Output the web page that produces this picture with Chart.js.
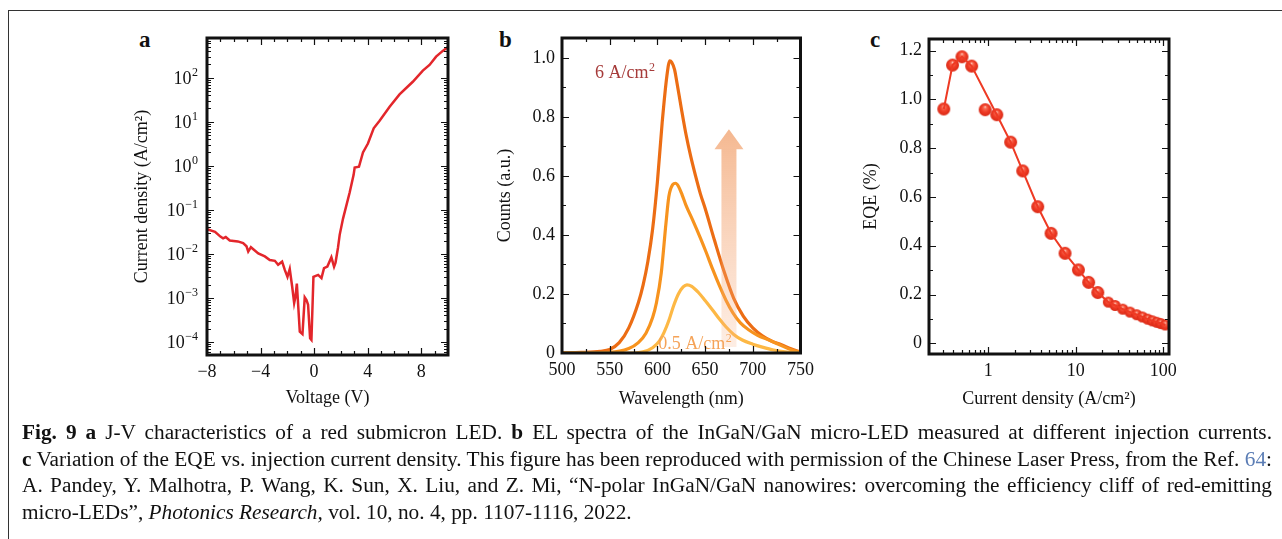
<!DOCTYPE html>
<html lang="en">
<head>
<meta charset="UTF-8" />
<title>Fig. 9</title>
<script src="https://cdn.jsdelivr.net/npm/chart.js"></script>
<style>
  body { margin: 0; background: #fff; width: 1282px; height: 539px; overflow: hidden; position: relative; font-family: "Liberation Serif", serif; color: #111; }
  .frame { position: absolute; left: 8px; top: 10px; width: 1400px; height: 700px; border-top: 1.5px solid #333; border-left: 1.5px solid #333; }
  canvas { position: absolute; }
  .tag { position: absolute; font-weight: bold; font-size: 23px; line-height: 22px; }
  #caption { position: absolute; left: 22px; top: 419px; width: 1250px; font-size: 21.3px; line-height: 26.7px; }
  #caption .ln { display: block; text-align: justify; text-align-last: justify; }
  #caption .last { display: block; text-align: left; }
  .ref { color: #5b7db5; }
</style>
</head>
<body>
<div class="frame"></div>
<div class="tag" style="left:139px; top:29px;">a</div>
<div class="tag" style="left:499px; top:29px;">b</div>
<div class="tag" style="left:870px; top:29px;">c</div>

<canvas id="jv" width="350" height="400" style="left:110px; top:20px;"></canvas>
<canvas id="el" width="340" height="400" style="left:480px; top:20px;"></canvas>
<canvas id="eqe" width="340" height="400" style="left:850px; top:20px;"></canvas>

<div id="caption">
  <span class="ln"><b>Fig. 9 a</b> J-V characteristics of a red submicron LED. <b>b</b> EL spectra of the InGaN/GaN micro-LED measured at different injection currents.</span>
  <span class="ln"><b>c</b> Variation of the EQE vs. injection current density. This figure has been reproduced with permission of the Chinese Laser Press, from the Ref. <span class="ref">64</span>:</span>
  <span class="ln">A. Pandey, Y. Malhotra, P. Wang, K. Sun, X. Liu, and Z. Mi, “N-polar InGaN/GaN nanowires: overcoming the efficiency cliff of red-emitting</span>
  <span class="last">micro-LEDs”, <i>Photonics Research,</i> vol. 10, no. 4, pp. 1107-1116, 2022.</span>
</div>

<script>
// ---- panel a: J-V ----
const jvVoltage = [-8.0, -7.4, -7.0, -6.8, -6.6, -6.3, -5.7, -5.3, -5.05, -4.92, -4.72, -4.17, -3.68, -3.31, -2.93, -2.69, -2.39, -2.19, -1.99, -1.82, -1.64, -1.49, -1.39, -1.29, -1.2, -1.07, -0.87, -0.7, -0.57, -0.45, -0.3, -0.2, -0.05, 0.3, 0.55, 0.74, 0.99, 1.29, 1.49, 1.6, 1.78, 1.91, 2.16, 2.66, 2.95, 3.03, 3.35, 3.65, 4.02, 4.45, 4.89, 5.64, 6.38, 7.37, 8.12, 8.62, 9.11, 9.61, 10.0];
const jvDensity = [0.0363, 0.0316, 0.0245, 0.0224, 0.024, 0.02, 0.0191, 0.0174, 0.0148, 0.0112, 0.0141, 0.0102, 0.0087, 0.0072, 0.0069, 0.0056, 0.0066, 0.0043, 0.003, 0.0045, 0.0018, 0.00076, 0.00107, 0.0021, 0.00076, 0.00017, 0.00015, 0.00102, 0.00089, 0.00069, 0.00012, 0.00011, 0.003, 0.0033, 0.0028, 0.0047, 0.0051, 0.0083, 0.0051, 0.0063, 0.0135, 0.0269, 0.063, 0.25, 0.62, 0.91, 0.95, 2.0, 3.2, 7.1, 10.5, 21.9, 41.7, 81, 145, 195, 302, 407, 501];
const jvTicksV = [-8, -4, 0, 4, 8];
const jvMinorV = [-7, -6, -5, -3, -2, -1, 1, 2, 3, 5, 6, 7, 9];
const jvTicksJ = [1e-4, 1e-3, 1e-2, 1e-1, 1, 10, 100];

// ---- panel b: EL spectra ----
const elHighNm = [500, 520, 540, 550, 560, 570, 580, 585, 590, 595, 600, 605, 610, 613, 615, 618, 620, 625, 630, 635, 640, 645, 650, 660, 670, 680, 690, 700, 710, 720, 730, 740, 750];
const elHigh = [0, 0.002, 0.006, 0.012, 0.035, 0.085, 0.17, 0.23, 0.31, 0.42, 0.58, 0.78, 0.94, 0.99, 0.985, 0.96, 0.925, 0.83, 0.74, 0.665, 0.6, 0.54, 0.49, 0.38, 0.275, 0.185, 0.125, 0.085, 0.058, 0.04, 0.028, 0.014, 0.003];
const elMidNm = [500, 550, 570, 580, 588, 595, 599, 604, 609, 612, 616, 619, 622, 626, 630, 637, 645, 651, 658, 665, 672, 679, 687, 696, 705, 717, 730, 741, 750];
const elMid = [0, 0.002, 0.015, 0.035, 0.067, 0.12, 0.17, 0.27, 0.44, 0.53, 0.57, 0.575, 0.565, 0.535, 0.5, 0.45, 0.39, 0.342, 0.283, 0.228, 0.178, 0.137, 0.102, 0.078, 0.06, 0.044, 0.025, 0.01, 0.003];
const elLowNm = [500, 575, 585, 595, 602, 607, 612, 617, 622, 627, 631, 636, 643, 650, 658, 665, 672, 680, 689, 700, 710, 722, 734, 750];
const elLow = [0, 0, 0.004, 0.018, 0.04, 0.07, 0.11, 0.16, 0.2, 0.224, 0.231, 0.226, 0.205, 0.178, 0.145, 0.115, 0.088, 0.063, 0.044, 0.03, 0.02, 0.01, 0.004, 0];
const elTicksNm = [500, 550, 600, 650, 700, 750];
const elMinorNm = [525, 575, 625, 675, 725];
const elTicksCounts = [0, 0.2, 0.4, 0.6, 0.8, 1.0];
const elMinorCounts = [0.1, 0.3, 0.5, 0.7, 0.9];

// ---- panel c: EQE ----
const eqeJ = [0.31, 0.39, 0.50, 0.645, 0.92, 1.25, 1.80, 2.47, 3.67, 5.21, 7.53, 10.7, 14.0, 17.8, 23.5, 28.1, 34.4, 41.6, 49.6, 57.5, 66.3, 74.9, 84.1, 93.4, 105];
const eqeVal = [0.961, 1.141, 1.175, 1.137, 0.958, 0.9375, 0.825, 0.707, 0.560, 0.451, 0.369, 0.301, 0.250, 0.208, 0.169, 0.155, 0.140, 0.128, 0.117, 0.108, 0.099, 0.092, 0.086, 0.081, 0.075];
// the drawn line skips the low point at 0.92 A/cm2
const eqeLineJ = [0.31, 0.39, 0.50, 0.645, 1.25, 1.80, 2.47, 3.67, 5.21, 7.53, 10.7, 14.0, 17.8, 23.5, 28.1, 34.4, 41.6, 49.6, 57.5, 66.3, 74.9, 84.1, 93.4, 105];
const eqeLineVal = [0.961, 1.141, 1.175, 1.137, 0.9375, 0.825, 0.707, 0.560, 0.451, 0.369, 0.301, 0.250, 0.208, 0.169, 0.155, 0.140, 0.128, 0.117, 0.108, 0.099, 0.092, 0.086, 0.081, 0.075];
const eqeTicksJ = [1, 10, 100];
const eqeTicksVal = [0, 0.2, 0.4, 0.6, 0.8, 1.0, 1.2];
const eqeMinorVal = [0.1, 0.3, 0.5, 0.7, 0.9, 1.1];

const FONT = '"Liberation Serif", "Times New Roman", serif';
Chart.defaults.font.family = FONT;
Chart.defaults.font.size = 18;
Chart.defaults.color = '#111';

function logMinor(lo, hi) {
  const out = [];
  for (let n = -6; n <= 3; n++) {
    for (let k = 2; k <= 9; k++) {
      const v = k * Math.pow(10, n);
      if (v > lo && v < hi) out.push(v);
    }
  }
  return out;
}

function pts(xs, ys) { return xs.map((x, i) => ({ x: x, y: ys[i] })); }

// frame + inward ticks on all four sides
const frameTicks = {
  id: 'frameTicks',
  afterDraw(chart, args, opts) {
    const { ctx, chartArea: a, scales } = chart;
    const xs = scales.x, ys = scales.y;
    ctx.save();
    ctx.strokeStyle = '#111';
    ctx.lineWidth = 1.2;
    const tx = (vals, len) => vals.forEach(v => {
      const p = Math.round(xs.getPixelForValue(v)) + 0.5;
      if (p < a.left + 2 || p > a.right - 2) return;
      ctx.beginPath();
      ctx.moveTo(p, a.bottom); ctx.lineTo(p, a.bottom - len);
      ctx.moveTo(p, a.top); ctx.lineTo(p, a.top + len);
      ctx.stroke();
    });
    const ty = (vals, len) => vals.forEach(v => {
      const p = Math.round(ys.getPixelForValue(v)) + 0.5;
      if (p < a.top + 2 || p > a.bottom - 2) return;
      ctx.beginPath();
      ctx.moveTo(a.left, p); ctx.lineTo(a.left + len, p);
      ctx.moveTo(a.right, p); ctx.lineTo(a.right - len, p);
      ctx.stroke();
    });
    tx(xs.ticks.map(t => t.value), 7);
    tx(opts.xMinor || [], 4);
    ty(ys.ticks.map(t => t.value), 7);
    ty(opts.yMinor || [], 4);
    ctx.lineWidth = 3;
    ctx.strokeRect(a.left, a.top, a.right - a.left, a.bottom - a.top);
    ctx.restore();
  }
};

function setTicks(list) { return scale => { scale.ticks = list.map(v => ({ value: v })); }; }
function fixW(w) { return scale => { scale.width = w; }; }
function fixH(h) { return scale => { scale.height = h; }; }

const tickFont = { size: 18 };
const titleFont = { size: 18 };
const noGrid = { display: false, drawTicks: false };

// ---- chart a ----
const expLabels = {
  id: 'expLabels',
  afterDraw(chart) {
    const { ctx, chartArea: a, scales: { y } } = chart;
    ctx.save();
    ctx.fillStyle = '#111';
    ctx.textAlign = 'left';
    ctx.textBaseline = 'alphabetic';
    jvTicksJ.forEach(v => {
      const e = Math.round(Math.log10(v));
      const es = e < 0 ? '\u2212' + (-e) : String(e);
      const p = y.getPixelForValue(v);
      ctx.font = '12px ' + FONT;
      const ew = ctx.measureText(es).width;
      ctx.font = '18px ' + FONT;
      const bw = ctx.measureText('10').width;
      const right = a.left - 9;
      ctx.fillText('10', right - ew - bw - 0.5, p + 6);
      ctx.font = '12px ' + FONT;
      ctx.fillText(es, right - ew, p - 1.5);
    });
    ctx.restore();
  }
};

new Chart(document.getElementById('jv'), {
  type: 'line',
  data: {
    datasets: [{
      data: pts(jvVoltage, jvDensity),
      borderColor: '#e3262b',
      borderWidth: 2.5,
      pointRadius: 0,
      tension: 0
    }]
  },
  options: {
    responsive: false,
    animation: false,
    events: [],
    layout: { padding: { top: 18, right: 12 } },
    plugins: { legend: { display: false }, tooltip: { enabled: false }, frameTicks: { xMinor: jvMinorV, yMinor: logMinor(5e-5, 800) } },
    scales: {
      x: {
        type: 'linear', min: -8, max: 10,
        grid: noGrid, border: { display: false },
        afterBuildTicks: setTicks(jvTicksV), afterFit: fixH(65),
        ticks: { font: tickFont, padding: 6, maxRotation: 0, autoSkip: false, callback: v => String(v).replace('-', '\u2212') },
        title: { display: true, text: 'Voltage (V)', font: titleFont, padding: { top: 0, bottom: 11 } }
      },
      y: {
        type: 'logarithmic', min: 5e-5, max: 800,
        grid: noGrid, border: { display: false },
        afterBuildTicks: setTicks(jvTicksJ), afterFit: fixW(97),
        ticks: { display: false },
        title: { display: true, text: 'Current density (A/cm\u00b2)', font: titleFont, padding: { top: 21, bottom: 0 } }
      }
    }
  },
  plugins: [frameTicks, expLabels]
});

// ---- chart b ----
const elNotes = {
  id: 'elNotes',
  afterDatasetsDraw(chart) {
    const { ctx, scales: { x, y } } = chart;
    ctx.save();
    // fading arrow for increasing current
    const cx = x.getPixelForValue(675);
    const tip = y.getPixelForValue(0.758), base = y.getPixelForValue(0.69), foot = y.getPixelForValue(0.02);
    const g = ctx.createLinearGradient(0, tip, 0, foot);
    g.addColorStop(0, 'rgba(238,140,76,0.62)');
    g.addColorStop(1, 'rgba(247,175,130,0.22)');
    ctx.fillStyle = g;
    ctx.beginPath();
    ctx.moveTo(cx, tip);
    ctx.lineTo(cx + 14.5, base);
    ctx.lineTo(cx + 7.5, base);
    ctx.lineTo(cx + 7.5, foot);
    ctx.lineTo(cx - 7.5, foot);
    ctx.lineTo(cx - 7.5, base);
    ctx.lineTo(cx - 14.5, base);
    ctx.closePath();
    ctx.fill();
    ctx.textBaseline = 'alphabetic';
    ctx.textAlign = 'left';
    const note = (txt, nm, v, color) => {
      const px = x.getPixelForValue(nm), py = y.getPixelForValue(v);
      ctx.fillStyle = color;
      ctx.font = '18px ' + FONT;
      ctx.fillText(txt, px, py);
      const w = ctx.measureText(txt).width;
      ctx.font = '12px ' + FONT;
      ctx.fillText('2', px + w + 0.5, py - 7);
    };
    note('6 A/cm', 534.5, 0.93, '#a63b3a');
    note('0.5 A/cm', 601, 0.012, '#f5a358');
    ctx.restore();
  }
};

new Chart(document.getElementById('el'), {
  type: 'line',
  data: {
    datasets: [
      { data: pts(elLowNm, elLow), borderColor: '#fdb845', borderWidth: 3.2, pointRadius: 0, cubicInterpolationMode: 'monotone' },
      { data: pts(elMidNm, elMid), borderColor: '#f7931e', borderWidth: 3.2, pointRadius: 0, cubicInterpolationMode: 'monotone' },
      { data: pts(elHighNm, elHigh), borderColor: '#ec6d14', borderWidth: 3.2, pointRadius: 0, cubicInterpolationMode: 'monotone' }
    ]
  },
  options: {
    responsive: false,
    animation: false,
    events: [],
    layout: { padding: { top: 18, right: 18 } },
    plugins: { legend: { display: false }, tooltip: { enabled: false }, frameTicks: { xMinor: elMinorNm, yMinor: elMinorCounts } },
    scales: {
      x: {
        type: 'linear', min: 500, max: 750,
        grid: noGrid, border: { display: false },
        afterBuildTicks: setTicks(elTicksNm), afterFit: fixH(67),
        ticks: { font: tickFont, padding: 6, maxRotation: 0, autoSkip: false },
        title: { display: true, text: 'Wavelength (nm)', font: titleFont, padding: { top: 0, bottom: 10 } }
      },
      y: {
        type: 'linear', min: 0, max: 1.067,
        grid: noGrid, border: { display: false },
        afterBuildTicks: setTicks(elTicksCounts), afterFit: fixW(82),
        ticks: { font: tickFont, padding: 7, callback: v => v === 0 ? '0' : v.toFixed(1) },
        title: { display: true, text: 'Counts (a.u.)', font: titleFont, padding: { top: 14, bottom: 0 } }
      }
    }
  },
  plugins: [frameTicks, elNotes]
});

// ---- chart c ----
function sphere(r) {
  const c = document.createElement('canvas');
  const s = Math.ceil(r * 2) + 2;
  c.width = s; c.height = s;
  const g = c.getContext('2d');
  const m = s / 2;
  const grad = g.createRadialGradient(m, m - r * 0.45, 0, m, m, r);
  grad.addColorStop(0, '#ffd9d0');
  grad.addColorStop(0.22, '#f86a52');
  grad.addColorStop(0.6, '#ef3a24');
  grad.addColorStop(1, '#d92b17');
  g.fillStyle = grad;
  g.beginPath();
  g.arc(m, m, r, 0, Math.PI * 2);
  g.fill();
  return c;
}
const bigBall = sphere(6.5), smallBall = sphere(5.5);

new Chart(document.getElementById('eqe'), {
  type: 'line',
  data: {
    datasets: [
      { data: pts(eqeLineJ, eqeLineVal), borderColor: '#ee3a24', borderWidth: 2, pointRadius: 0, tension: 0 },
      { data: pts(eqeJ, eqeVal), showLine: false, pointStyle: ctx => ctx.dataIndex < 14 ? bigBall : smallBall, pointRadius: 6 }
    ]
  },
  options: {
    responsive: false,
    animation: false,
    events: [],
    layout: { padding: { top: 19, right: 21 } },
    plugins: { legend: { display: false }, tooltip: { enabled: false }, frameTicks: { xMinor: logMinor(0.21, 116), yMinor: eqeMinorVal } },
    scales: {
      x: {
        type: 'logarithmic', min: 0.21, max: 116,
        grid: noGrid, border: { display: false },
        afterBuildTicks: setTicks(eqeTicksJ), afterFit: fixH(66),
        ticks: { font: tickFont, padding: 6, maxRotation: 0, autoSkip: false, callback: v => String(v) },
        title: { display: true, text: 'Current density (A/cm\u00b2)', font: titleFont, padding: { top: 0, bottom: 10 } }
      },
      y: {
        type: 'linear', min: -0.044, max: 1.248,
        grid: noGrid, border: { display: false },
        afterBuildTicks: setTicks(eqeTicksVal), afterFit: fixW(79),
        ticks: { font: tickFont, padding: 7, callback: v => v === 0 ? '0' : v.toFixed(1) },
        title: { display: true, text: 'EQE (%)', font: titleFont, padding: { top: 10, bottom: 0 } }
      }
    }
  },
  plugins: [frameTicks]
});
</script>
</body>
</html>
